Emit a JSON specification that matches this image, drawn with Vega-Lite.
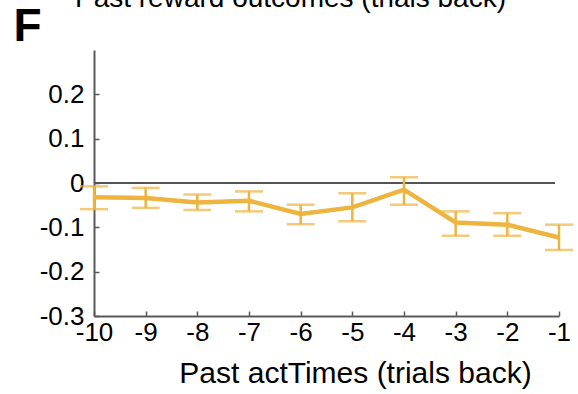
{
  "$schema": "https://vega.github.io/schema/vega-lite/v6.json",
  "autosize": {"type": "none"},
  "width": 465,
  "height": 266,
  "padding": {"left": 94, "top": 50, "right": 19, "bottom": 78},
  "background": "white",
  "title": {
    "text": "Past reward outcomes (trials back)",
    "font": "Liberation Sans",
    "fontSize": 28,
    "fontWeight": "normal",
    "color": "black",
    "anchor": "middle",
    "frame": "group",
    "baseline": "alphabetic",
    "dx": -36,
    "dy": 32,
    "offset": 0
  },
  "data": {
    "values": [
      {"lag": -10, "mean": -0.032, "lo": -0.059, "hi": -0.0075},
      {"lag": -9, "mean": -0.034, "lo": -0.056, "hi": -0.011},
      {"lag": -8, "mean": -0.044, "lo": -0.061, "hi": -0.026},
      {"lag": -7, "mean": -0.040, "lo": -0.064, "hi": -0.019},
      {"lag": -6, "mean": -0.070, "lo": -0.093, "hi": -0.049},
      {"lag": -5, "mean": -0.055, "lo": -0.086, "hi": -0.023},
      {"lag": -4, "mean": -0.015, "lo": -0.049, "hi": 0.013},
      {"lag": -3, "mean": -0.089, "lo": -0.119, "hi": -0.064},
      {"lag": -2, "mean": -0.094, "lo": -0.119, "hi": -0.068},
      {"lag": -1, "mean": -0.123, "lo": -0.151, "hi": -0.094}
    ]
  },
  "encoding": {
    "x": {
      "field": "lag",
      "type": "quantitative",
      "scale": {"domain": [-10, -1], "nice": false, "zero": false},
      "axis": {
        "values": [-10, -9, -8, -7, -6, -5, -4, -3, -2, -1],
        "labelExpr": "toString(datum.value)",
        "labelFlush": false,
        "labelOverlap": false,
        "title": "Past actTimes (trials back)",
        "titleX": 261,
        "titleY": 66,
        "titleAlign": "center",
        "titleBaseline": "alphabetic",
        "titleFontSize": 30,
        "labelPadding": 8
      }
    }
  },
  "layer": [
    {
      "mark": {"type": "rule", "color": "#555555", "strokeWidth": 2},
      "encoding": {
        "x": {"datum": -10, "type": "quantitative"},
        "x2": {"datum": -1.08},
        "y": {"datum": 0, "type": "quantitative"}
      }
    },
    {
      "mark": {"type": "rule", "color": "#EDB440", "strokeWidth": 2.5},
      "encoding": {
        "y": {
          "field": "lo",
          "type": "quantitative",
          "scale": {"domain": [-0.3, 0.3], "nice": false, "zero": false},
          "axis": {
            "values": [-0.3, -0.2, -0.1, 0, 0.1, 0.2],
            "labelExpr": "datum.value == 0 ? '0' : toString(round(datum.value * 10) / 10)",
            "labelOverlap": false,
            "labelFlush": false,
            "title": "F",
            "titleAngle": 0,
            "titleX": -81,
            "titleY": -10,
            "titleAlign": "left",
            "titleBaseline": "alphabetic",
            "titleFontSize": 46,
            "titleFontWeight": "bold",
            "labelPadding": 15
          }
        },
        "y2": {"field": "hi"}
      }
    },
    {
      "mark": {"type": "tick", "orient": "horizontal", "color": "#EDB440", "size": 28, "thickness": 2.5},
      "encoding": {"y": {"field": "lo", "type": "quantitative"}}
    },
    {
      "mark": {"type": "tick", "orient": "horizontal", "color": "#EDB440", "size": 28, "thickness": 2.5},
      "encoding": {"y": {"field": "hi", "type": "quantitative"}}
    },
    {
      "mark": {"type": "line", "color": "#EDB440", "strokeWidth": 4.5},
      "encoding": {"y": {"field": "mean", "type": "quantitative"}}
    }
  ],
  "config": {
    "view": {"stroke": null},
    "font": "Liberation Sans",
    "axis": {
      "grid": false,
      "domainColor": "#5a5a5a",
      "domainWidth": 2,
      "tickColor": "#5a5a5a",
      "tickWidth": 1.5,
      "tickSize": -5,
      "labelFont": "Liberation Sans",
      "labelFontSize": 26,
      "labelColor": "black",
      "titleFont": "Liberation Sans",
      "titleColor": "black",
      "titleFontWeight": "normal"
    }
  }
}
